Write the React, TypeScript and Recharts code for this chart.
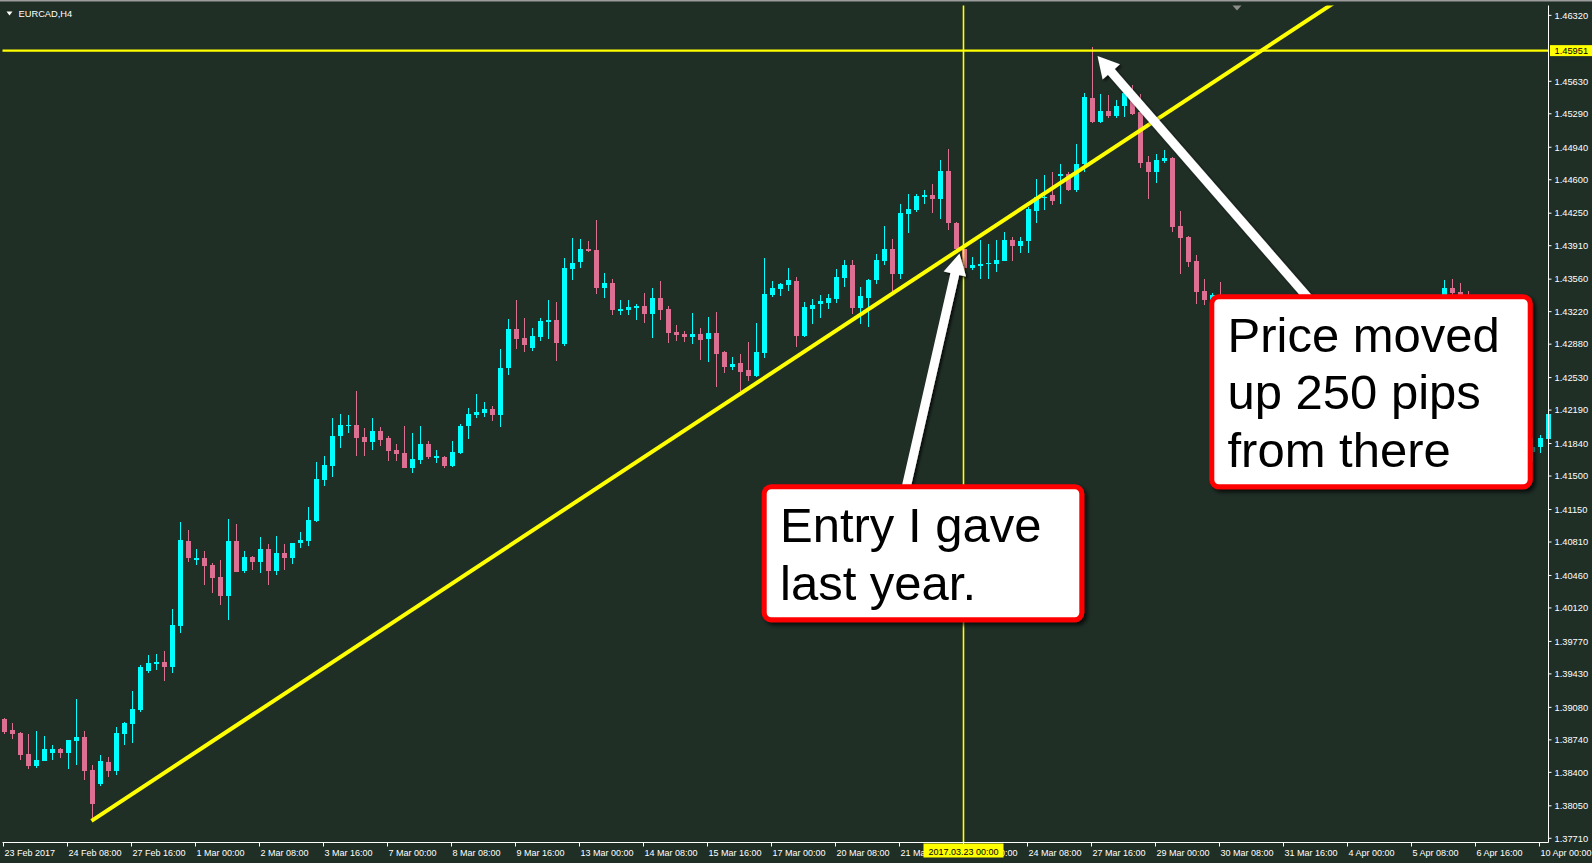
import React from 'react';
import { ComposedChart, Bar, XAxis, YAxis, ReferenceLine } from 'recharts';

const opens = [
  1.38955, 1.38840, 1.38809, 1.38589, 1.38467, 1.38519, 1.38603, 1.38641, 1.38603, 1.38728,
  1.38767, 1.38422, 1.38275, 1.38505, 1.38414, 1.38801, 1.38906, 1.39052, 1.39460, 1.39534,
  1.39551, 1.39502, 1.39931, 1.40817, 1.40621, 1.40639, 1.40566, 1.40441, 1.40245, 1.40817,
  1.40506, 1.40650, 1.40601, 1.40733, 1.40506, 1.40692, 1.40642, 1.40799, 1.40820, 1.41026,
  1.41458, 1.41605, 1.41919, 1.42023, 1.42030, 1.41905, 1.41856, 1.41968, 1.41894, 1.41772,
  1.41741, 1.41588, 1.41667, 1.41835, 1.41688, 1.41699, 1.41605, 1.41741, 1.42023, 1.42138,
  1.42159, 1.42201, 1.42138, 1.42630, 1.43038, 1.42944, 1.42839, 1.42954, 1.43111, 1.43132,
  1.42881, 1.43666, 1.43740, 1.43876, 1.43865, 1.43468, 1.43520, 1.43227, 1.43237, 1.43258,
  1.43279, 1.43196, 1.43363, 1.43248, 1.43006, 1.42985, 1.42954, 1.42985, 1.42933, 1.42996,
  1.42797, 1.42640, 1.42682, 1.42609, 1.42546, 1.42787, 1.43394, 1.43457, 1.43499, 1.43541,
  1.42965, 1.43248, 1.43300, 1.43311, 1.43352, 1.43572, 1.43705, 1.43258, 1.43363, 1.43548,
  1.43750, 1.43872, 1.43618, 1.44238, 1.44280, 1.44419, 1.44437, 1.44395, 1.44688, 1.44152,
  1.43872, 1.43681, 1.43698, 1.43723, 1.43723, 1.43750, 1.43967, 1.43907, 1.43959, 1.44273,
  1.44416, 1.44437, 1.44636, 1.44657, 1.44490, 1.44769, 1.45452, 1.45204, 1.45316, 1.45264,
  1.45368, 1.45507, 1.45305, 1.44782, 1.44681, 1.44796, 1.44827, 1.44113, 1.44001, 1.43747,
  1.43435, 1.43339, 1.43380, 1.43300, 1.43000, 1.42820, 1.42580, 1.42680, 1.42450, 1.42350,
  1.42500, 1.42620, 1.42700, 1.42530, 1.42600, 1.42800, 1.42750, 1.42650, 1.42720, 1.42860,
  1.42820, 1.42700, 1.42800, 1.42950, 1.42900, 1.43000, 1.42950, 1.43050, 1.43000, 1.43080,
  1.43100, 1.43467, 1.43422, 1.43373, 1.43200, 1.42900, 1.42600, 1.42300, 1.42100, 1.41900,
  1.41850, 1.41750, 1.41803, 1.41884,
];

const highs = [
  1.38973, 1.38916, 1.38822, 1.38798, 1.38833, 1.38777, 1.38683, 1.38655, 1.38736, 1.39164,
  1.38833, 1.38474, 1.38579, 1.38558, 1.38871, 1.38924, 1.39248, 1.39527, 1.39625, 1.39635,
  1.39666, 1.40106, 1.41016, 1.40932, 1.40733, 1.40712, 1.40587, 1.40618, 1.41047, 1.40995,
  1.40712, 1.40660, 1.40859, 1.40789, 1.40869, 1.40786, 1.40796, 1.40911, 1.41176, 1.41643,
  1.41706, 1.42104, 1.42149, 1.42135, 1.42386, 1.41999, 1.42104, 1.42010, 1.41919, 1.41832,
  1.42020, 1.41950, 1.42023, 1.41866, 1.41772, 1.41709, 1.41866, 1.42044, 1.42211, 1.42358,
  1.42274, 1.42232, 1.42829, 1.43142, 1.43341, 1.43153, 1.43048, 1.43153, 1.43341, 1.43320,
  1.43781, 1.43991, 1.43980, 1.43959, 1.44179, 1.43625, 1.43562, 1.43342, 1.43342, 1.43300,
  1.43415, 1.43468, 1.43541, 1.43279, 1.43080, 1.43017, 1.43206, 1.43048, 1.43163, 1.43216,
  1.42808, 1.42745, 1.42776, 1.42902, 1.43101, 1.43781, 1.43541, 1.43520, 1.43677, 1.43583,
  1.43318, 1.43357, 1.43399, 1.43409, 1.43671, 1.43757, 1.43757, 1.43478, 1.43566, 1.43827,
  1.44113, 1.43984, 1.44343, 1.44448, 1.44448, 1.44490, 1.44560, 1.44811, 1.44926, 1.44160,
  1.43880, 1.43792, 1.43967, 1.43932, 1.43967, 1.44053, 1.44001, 1.44001, 1.44315, 1.44612,
  1.44646, 1.44681, 1.44769, 1.44681, 1.44978, 1.45507, 1.45985, 1.45501, 1.45483, 1.45431,
  1.45535, 1.45588, 1.45501, 1.44845, 1.44873, 1.44908, 1.44835, 1.44270, 1.44008, 1.43810,
  1.43566, 1.43412, 1.43530, 1.43350, 1.43100, 1.42900, 1.42750, 1.42800, 1.42600, 1.42550,
  1.42700, 1.42780, 1.42750, 1.42650, 1.42850, 1.42950, 1.42820, 1.42780, 1.42900, 1.43000,
  1.42880, 1.42850, 1.43000, 1.43080, 1.43050, 1.43100, 1.43080, 1.43120, 1.43100, 1.43130,
  1.43548, 1.43558, 1.43521, 1.43436, 1.43280, 1.43000, 1.42700, 1.42450, 1.42250, 1.42050,
  1.42000, 1.41900, 1.41926, 1.42166,
];

const lows = [
  1.38797, 1.38749, 1.38534, 1.38440, 1.38446, 1.38519, 1.38526, 1.38550, 1.38440, 1.38481,
  1.38317, 1.37898, 1.38258, 1.38352, 1.38369, 1.38686, 1.38707, 1.39032, 1.39440, 1.39471,
  1.39356, 1.39440, 1.39858, 1.40601, 1.40569, 1.40360, 1.40276, 1.40151, 1.39994, 1.40496,
  1.40486, 1.40517, 1.40486, 1.40360, 1.40465, 1.40517, 1.40580, 1.40747, 1.40768, 1.41016,
  1.41396, 1.41490, 1.41793, 1.41950, 1.41709, 1.41709, 1.41772, 1.41814, 1.41657, 1.41657,
  1.41588, 1.41532, 1.41626, 1.41678, 1.41636, 1.41584, 1.41594, 1.41730, 1.41887, 1.42107,
  1.42117, 1.42075, 1.42013, 1.42557, 1.42829, 1.42797, 1.42808, 1.42912, 1.42933, 1.42703,
  1.42860, 1.43551, 1.43677, 1.43844, 1.43405, 1.43363, 1.43185, 1.43185, 1.43185, 1.43132,
  1.43101, 1.42944, 1.43132, 1.42891, 1.42912, 1.42902, 1.42881, 1.42713, 1.42693, 1.42431,
  1.42578, 1.42609, 1.42389, 1.42494, 1.42536, 1.42734, 1.43373, 1.43384, 1.43436, 1.42849,
  1.42951, 1.43094, 1.43157, 1.43248, 1.43311, 1.43478, 1.43200, 1.43094, 1.43059, 1.43514,
  1.43705, 1.43426, 1.43566, 1.44043, 1.44263, 1.44350, 1.44252, 1.44193, 1.44071, 1.43862,
  1.43653, 1.43653, 1.43566, 1.43566, 1.43635, 1.43745, 1.43750, 1.43834, 1.43834, 1.44147,
  1.44280, 1.44333, 1.44350, 1.44485, 1.44472, 1.44681, 1.45194, 1.45195, 1.45250, 1.45250,
  1.45256, 1.45274, 1.44727, 1.44403, 1.44566, 1.44775, 1.44053, 1.43618, 1.43687, 1.43295,
  1.43294, 1.43234, 1.43150, 1.42950, 1.42750, 1.42500, 1.42450, 1.42400, 1.42250, 1.42300,
  1.42420, 1.42550, 1.42480, 1.42380, 1.42550, 1.42700, 1.42580, 1.42600, 1.42680, 1.42780,
  1.42650, 1.42620, 1.42750, 1.42850, 1.42820, 1.42900, 1.42880, 1.42950, 1.42900, 1.43000,
  1.43050, 1.43300, 1.43250, 1.43100, 1.42800, 1.42500, 1.42200, 1.42000, 1.41800, 1.41700,
  1.41650, 1.41650, 1.41741, 1.41874,
];

const closes = [
  1.38822, 1.38806, 1.38582, 1.38467, 1.38526, 1.38641, 1.38641, 1.38603, 1.38736, 1.38767,
  1.38414, 1.38066, 1.38516, 1.38414, 1.38809, 1.38913, 1.39060, 1.39499, 1.39541, 1.39551,
  1.39502, 1.39938, 1.40828, 1.40642, 1.40639, 1.40559, 1.40433, 1.40245, 1.40817, 1.40496,
  1.40650, 1.40601, 1.40733, 1.40506, 1.40692, 1.40642, 1.40796, 1.40828, 1.41037, 1.41466,
  1.41612, 1.41915, 1.42030, 1.42034, 1.41898, 1.41856, 1.41968, 1.41877, 1.41762, 1.41730,
  1.41588, 1.41678, 1.41835, 1.41699, 1.41709, 1.41605, 1.41751, 1.42023, 1.42149, 1.42170,
  1.42201, 1.42138, 1.42630, 1.43038, 1.42933, 1.42870, 1.42965, 1.43121, 1.43132, 1.42891,
  1.43677, 1.43729, 1.43876, 1.43855, 1.43468, 1.43520, 1.43237, 1.43248, 1.43269, 1.43279,
  1.43196, 1.43363, 1.43237, 1.42996, 1.42975, 1.42954, 1.42985, 1.42923, 1.42996, 1.42776,
  1.42640, 1.42672, 1.42588, 1.42546, 1.42797, 1.43402, 1.43468, 1.43509, 1.43551, 1.42965,
  1.43269, 1.43287, 1.43328, 1.43363, 1.43580, 1.43705, 1.43258, 1.43381, 1.43548, 1.43757,
  1.43872, 1.43618, 1.44249, 1.44291, 1.44427, 1.44437, 1.44395, 1.44688, 1.44147, 1.43872,
  1.43681, 1.43705, 1.43723, 1.43730, 1.43757, 1.43967, 1.43907, 1.43959, 1.44291, 1.44419,
  1.44424, 1.44378, 1.44664, 1.44490, 1.44769, 1.45465, 1.45204, 1.45316, 1.45264, 1.45375,
  1.45507, 1.45292, 1.44775, 1.44681, 1.44803, 1.44827, 1.44106, 1.43993, 1.43740, 1.43426,
  1.43339, 1.43391, 1.43300, 1.43000, 1.42820, 1.42580, 1.42680, 1.42450, 1.42350, 1.42500,
  1.42620, 1.42700, 1.42530, 1.42600, 1.42800, 1.42750, 1.42650, 1.42720, 1.42860, 1.42820,
  1.42700, 1.42800, 1.42950, 1.42900, 1.43000, 1.42950, 1.43050, 1.43000, 1.43080, 1.43100,
  1.43467, 1.43415, 1.43373, 1.43200, 1.42900, 1.42600, 1.42300, 1.42100, 1.41900, 1.41850,
  1.41750, 1.41800, 1.41898, 1.42145,
];

const xLabels = [
  '23 Feb 2017', '24 Feb 08:00', '27 Feb 16:00', '1 Mar 00:00', '2 Mar 08:00', '3 Mar 16:00',
  '7 Mar 00:00', '8 Mar 08:00', '9 Mar 16:00', '13 Mar 00:00', '14 Mar 08:00', '15 Mar 16:00',
  '17 Mar 00:00', '20 Mar 08:00', '21 Mar 16:00', '23 Mar 00:00', '24 Mar 08:00', '27 Mar 16:00',
  '29 Mar 00:00', '30 Mar 08:00', '31 Mar 16:00', '4 Apr 00:00', '5 Apr 08:00', '6 Apr 16:00',
  '10 Apr 00:00',
];
const LABEL_STEP = 8;

const yTicks = [
  1.4632, 1.4563, 1.4529, 1.4494, 1.446, 1.4425, 1.4391, 1.4356, 1.4322, 1.4288, 1.4253,
  1.4219, 1.4184, 1.415, 1.4115, 1.4081, 1.4046, 1.4012, 1.3977, 1.3943, 1.3908, 1.3874,
  1.384, 1.3805, 1.3771,
];

const Y_MIN = 1.37666;
const Y_MAX = 1.46423;
const LEVEL = 1.45951;
const CROSS_INDEX = 120;
const CROSS_LABEL = '2017.03.23 00:00';
const TREND = [
  { x: 11, y: 1.37893 },
  { x: 168, y: 1.46544 },
];

const SYMBOL = 'EURCAD,H4';

const callouts = [
  {
    lines: ['Entry I gave', 'last year.'],
    box: [764.2, 486.8, 317.6, 133],
    text: [780, 541.7, 58.3],
    tail: [906, 488],
    tip: [959.5, 253.5],
  },
  {
    lines: ['Price moved', 'up 250 pips', 'from there'],
    box: [1211.8, 296.8, 318.4, 190],
    text: [1227.5, 351.7, 57.5],
    tail: [1310, 300],
    tip: [1097.5, 56],
  },
];

const data = opens.map((o, i) => ({ i, o, h: highs[i], l: lows[i], c: closes[i] }));

const BG = '#1f2f26';
const FG = '#ffffff';
const BULL = '#00ffff';
const BEAR = '#db7093';
const YEL = '#ffff00';
const FONT = "'Liberation Sans', Arial, sans-serif";

function Candle(props: any) {
  const { x, y, width, height, payload } = props;
  if (!payload || !isFinite(x) || !isFinite(y) || !isFinite(height)) return null;
  const top = Math.min(y, y + height);
  const span = Math.abs(height);
  const { o, c, h, l } = payload;
  const py = (v: number) => top + ((h - v) / (h - l)) * span;
  const bx = Math.round(x);
  const w = Math.round(width);
  const cx = bx + w / 2;
  const color = c >= o ? BULL : BEAR;
  const y1 = Math.round(py(Math.max(o, c)));
  const y2 = Math.round(py(Math.min(o, c)));
  return (
    <g>
      <line x1={cx} x2={cx} y1={Math.round(top)} y2={Math.round(top + span)} stroke={color} strokeWidth={1} />
      <rect x={bx} y={y1} width={w} height={Math.max(1, y2 - y1)} fill={color} />
    </g>
  );
}

function XTick(props: any) {
  const { x, y, payload } = props;
  const v = Number(payload && payload.value);
  if (!isFinite(v) || v % LABEL_STEP !== 0) return null;
  const label = xLabels[v / LABEL_STEP];
  if (!label) return null;
  const tx = Math.floor(x) + 0.5;
  return (
    <g>
      <line x1={tx} x2={tx} y1={y} y2={y + 4} stroke={FG} strokeWidth={1} />
      <text x={tx + 1} y={y + 13} fill={FG} fontSize={9} fontFamily={FONT}>
        {label}
      </text>
      {v === CROSS_INDEX && (
        <g>
          <rect x={tx - 40} y={y + 1} width={80} height={14} fill={YEL} />
          <text x={tx} y={y + 12} fill="#000" fontSize={9} fontFamily={FONT} textAnchor="middle">
            {CROSS_LABEL}
          </text>
        </g>
      )}
    </g>
  );
}

function LevelTag(props: any) {
  const vb = props.viewBox || {};
  const x = (vb.x || 0) + (vb.width || 0) + 1.5;
  const y = vb.y || 0;
  return (
    <g>
      <rect x={x} y={y - 5.5} width={42} height={11} fill={YEL} />
      <text x={x + 4.5} y={y + 3.2} fill="#000" fontSize={9.3} fontFamily={FONT}>
        {LEVEL.toFixed(5)}
      </text>
    </g>
  );
}

function arrowPoints(tail: number[], tip: number[], sw: number, hw: number, hl: number) {
  const dx = tip[0] - tail[0];
  const dy = tip[1] - tail[1];
  const len = Math.hypot(dx, dy);
  const ux = dx / len;
  const uy = dy / len;
  const nx = -uy;
  const ny = ux;
  const bx = tip[0] - ux * hl;
  const by = tip[1] - uy * hl;
  const pts = [
    [tail[0] + (nx * sw) / 2, tail[1] + (ny * sw) / 2],
    [bx + (nx * sw) / 2, by + (ny * sw) / 2],
    [bx + (nx * hw) / 2, by + (ny * hw) / 2],
    [tip[0], tip[1]],
    [bx - (nx * hw) / 2, by - (ny * hw) / 2],
    [bx - (nx * sw) / 2, by - (ny * sw) / 2],
    [tail[0] - (nx * sw) / 2, tail[1] - (ny * sw) / 2],
  ];
  return pts.map((p) => p[0].toFixed(2) + ',' + p[1].toFixed(2)).join(' ');
}

export default function App() {
  return (
    <div style={{ position: 'absolute', left: 0, top: 0, width: 1592, height: 863, background: BG, overflow: 'hidden' }}>
      <ComposedChart
        width={1592}
        height={863}
        data={data}
        margin={{ top: 5.5, left: 2.5, right: 0, bottom: 0 }}
        style={{ background: BG }}
      >
        <XAxis
          xAxisId="top"
          orientation="top"
          dataKey="i"
          type="category"
          height={0}
          tick={false}
          tickLine={false}
          axisLine={{ stroke: FG, strokeWidth: 1 }}
        />
        <XAxis
          dataKey="i"
          type="category"
          height={20.5}
          padding={{ left: -3, right: -3 }}
          interval={0}
          tickLine={false}
          tickSize={0}
          tickMargin={0}
          tick={XTick}
          axisLine={{ stroke: FG, strokeWidth: 1 }}
        />
        <YAxis
          yAxisId="left"
          orientation="left"
          width={0}
          domain={[0, 1]}
          tick={false}
          tickLine={false}
          axisLine={{ stroke: FG, strokeWidth: 1 }}
        />
        <YAxis
          orientation="right"
          type="number"
          width={43.5}
          domain={[Y_MIN, Y_MAX]}
          allowDataOverflow
          ticks={yTicks}
          interval={0}
          tickSize={3}
          tickMargin={3}
          tickLine={{ stroke: FG }}
          axisLine={{ stroke: FG, strokeWidth: 1 }}
          tick={{ fill: FG, fontSize: 9.3, fontFamily: FONT }}
          tickFormatter={(v: number) => v.toFixed(5)}
        />
        <Bar
          dataKey={(d: any) => [d.l, d.h]}
          barSize={5}
          shape={Candle}
          isAnimationActive={false}
        />
        <ReferenceLine x={CROSS_INDEX} stroke={YEL} strokeWidth={1.6} />
        <ReferenceLine y={LEVEL} stroke={YEL} strokeWidth={2.3} label={<LevelTag />} />
        <ReferenceLine segment={TREND} stroke={YEL} strokeWidth={4} ifOverflow="hidden" />
      </ComposedChart>

      <svg
        width={1592}
        height={863}
        style={{ position: 'absolute', left: 0, top: 0, pointerEvents: 'none' }}
      >
        <defs>
          <filter id="arrowShadow" x="-30%" y="-30%" width="160%" height="160%">
            <feDropShadow dx="2" dy="2" stdDeviation="1.5" floodColor="#000" floodOpacity="0.75" />
          </filter>
          <filter id="boxShadow" x="-10%" y="-10%" width="125%" height="130%">
            <feDropShadow dx="3" dy="3" stdDeviation="2" floodColor="#000" floodOpacity="0.75" />
          </filter>
        </defs>
        <rect x={0} y={0} width={1592} height={1.5} fill="#9c9c9c" />
        <polygon points="6.5,11.5 12.5,11.5 9.5,15.5" fill={FG} />
        <text x={18.5} y={16.8} fill={FG} fontSize={9.3} fontFamily={FONT}>
          {SYMBOL}
        </text>
        <polygon points="1232.5,5.5 1241.5,5.5 1237,10.5" fill="#8c8c8c" />
        {callouts.map((co, k) => (
          <polygon
            key={'a' + k}
            points={arrowPoints(co.tail, co.tip, 9, 23, 21)}
            fill="#ffffff"
            filter="url(#arrowShadow)"
          />
        ))}
        {callouts.map((co, k) => (
          <g key={'b' + k}>
            <rect
              x={co.box[0]}
              y={co.box[1]}
              width={co.box[2]}
              height={co.box[3]}
              rx={7}
              ry={7}
              fill="#ffffff"
              stroke="#ff0000"
              strokeWidth={5}
              filter="url(#boxShadow)"
            />
            <text fill="#000" fontSize={49} fontFamily={FONT}>
              {co.lines.map((ln, j) => (
                <tspan key={j} x={co.text[0]} y={co.text[1] + j * co.text[2]}>
                  {ln}
                </tspan>
              ))}
            </text>
          </g>
        ))}
      </svg>
    </div>
  );
}
